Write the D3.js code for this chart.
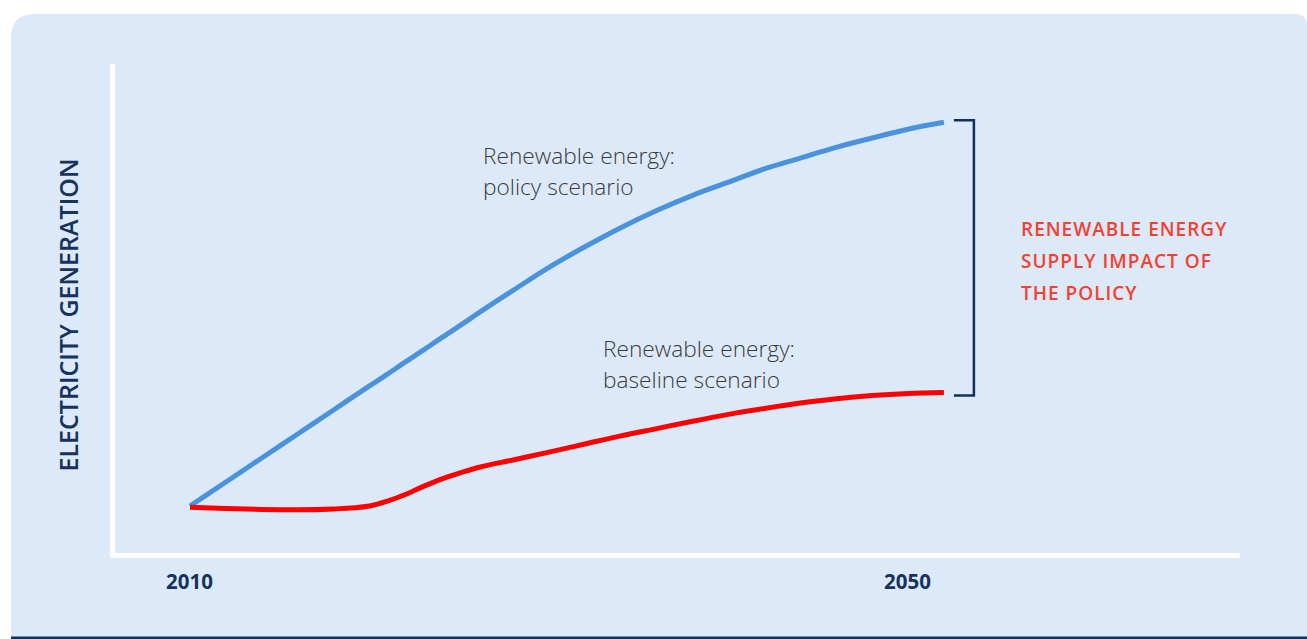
<!DOCTYPE html>
<html>
<head>
<meta charset="utf-8">
<script src="https://cdn.jsdelivr.net/npm/d3@7"></script>
<style>
  html, body { margin: 0; padding: 0; background: #ffffff; }
  svg { display: block; }
</style>
</head>
<body>
<svg id="chart" width="1307" height="639"></svg>
<script>
// ---- data ----
const years = [2010, 2012, 2014, 2016, 2018, 2020, 2021, 2022, 2023, 2024, 2025, 2026, 2028, 2030, 2032, 2034, 2036, 2038, 2040, 2042, 2044, 2046, 2048, 2050, 2052];
const policyScenario = [10.0, 14.9, 19.8, 24.7, 29.6, 34.5, 36.9, 39.4, 41.8, 44.3, 46.7, 49.2, 54.0, 58.7, 62.9, 66.8, 70.3, 73.4, 76.1, 78.8, 81.0, 83.2, 85.1, 86.9, 88.3];
const baselineScenario = [9.73, 9.49, 9.29, 9.22, 9.39, 10.0, 11.0, 12.35, 14.0, 15.5, 16.7, 17.8, 19.4, 21.0, 22.65, 24.3, 25.8, 27.3, 28.7, 29.9, 31.0, 31.9, 32.55, 32.96, 33.16];
const tickYears = [2010, 2050];
const yAxisTitle = "ELECTRICITY GENERATION";
const policyLabel = ["Renewable energy:", "policy scenario"];
const baselineLabel = ["Renewable energy:", "baseline scenario"];
const impactLabel = ["RENEWABLE ENERGY", "SUPPLY IMPACT OF", "THE POLICY"];

// ---- setup ----
const svg = d3.select("#chart");

// panel background with rounded top corners
const px0 = 11, py0 = 14, px1 = 1307, py1 = 637, rL = 24, rR = 12;
svg.append("path")
  .attr("d", `M${px0},${py1} L${px0},${py0 + rL} Q${px0},${py0} ${px0 + rL},${py0} L${px1 - rR},${py0} Q${px1},${py0} ${px1},${py0 + rR} L${px1},${py1} Z`)
  .attr("fill", "#dce9f8");
svg.append("rect").attr("x", px0).attr("y", 636.5).attr("width", px1 - px0).attr("height", 3).attr("fill", "#13305a");

const x = d3.scaleLinear().domain([2010, 2050]).range([190, 908]);
const y = d3.scaleLinear().domain([0, 100]).range([555, 65]);

// axes (white lines)
svg.append("line").attr("x1", 112.5).attr("x2", 112.5).attr("y1", y(100.2)).attr("y2", 558)
  .attr("stroke", "#ffffff").attr("stroke-width", 5);
svg.append("line").attr("x1", 110).attr("x2", 1240).attr("y1", 555.5).attr("y2", 555.5)
  .attr("stroke", "#ffffff").attr("stroke-width", 5);

// x tick labels
const xAxis = d3.axisBottom(x).tickValues(tickYears).tickFormat(d3.format("d")).tickSize(0).tickPadding(0);
const gx = svg.append("g").attr("transform", "translate(-1,574)").call(xAxis);
gx.select(".domain").remove();
gx.selectAll("text")
  .attr("font-family", "'Open Sans', sans-serif")
  .attr("font-weight", 700)
  .attr("font-size", 20.5)
  .attr("fill", "#17335c");

// y axis title
svg.append("text")
  .attr("transform", "translate(78,315) rotate(-90)")
  .attr("text-anchor", "middle")
  .attr("font-family", "'Open Sans', sans-serif")
  .attr("font-weight", 600)
  .attr("font-size", 25)
  .attr("fill", "#17335c")
  .text(yAxisTitle);

// lines
const line = d3.line().x((d, i) => x(years[i])).y(d => y(d)).curve(d3.curveMonotoneX);
svg.append("path").datum(policyScenario).attr("d", line)
  .attr("fill", "none").attr("stroke", "#4a93dc").attr("stroke-width", 5);
svg.append("path").datum(baselineScenario).attr("d", line)
  .attr("fill", "none").attr("stroke", "#ff0000").attr("stroke-width", 5);

// bracket
const last = years.length - 1;
const bx0 = x(years[last]) + 10, bx1 = bx0 + 20;
const byTop = y(policyScenario[last]) - 2, byBot = y(baselineScenario[last]) + 3;
svg.append("path")
  .attr("d", `M${bx0},${byTop} H${bx1} V${byBot} H${bx0}`)
  .attr("fill", "none").attr("stroke", "#13305a").attr("stroke-width", 2.5);

// labels
function multiline(lines, x0, y0, lh, opts) {
  const t = svg.append("text")
    .attr("font-family", "'Open Sans', sans-serif")
    .attr("font-weight", opts.weight)
    .attr("font-size", opts.size)
    .attr("fill", opts.fill)
    .attr("letter-spacing", opts.ls || 0);
  lines.forEach((s, i) => t.append("tspan").attr("x", x0).attr("y", y0 + i * lh).text(s));
}
multiline(policyLabel, 483, 164, 30.5, { weight: 300, size: 22.7, fill: "#3b3b3b" });
multiline(baselineLabel, 603, 357, 30.5, { weight: 300, size: 22.7, fill: "#3b3b3b" });
multiline(impactLabel, 1021, 236, 32, { weight: 600, size: 19, fill: "#f4412f", ls: 1 });
</script>
</body>
</html>
